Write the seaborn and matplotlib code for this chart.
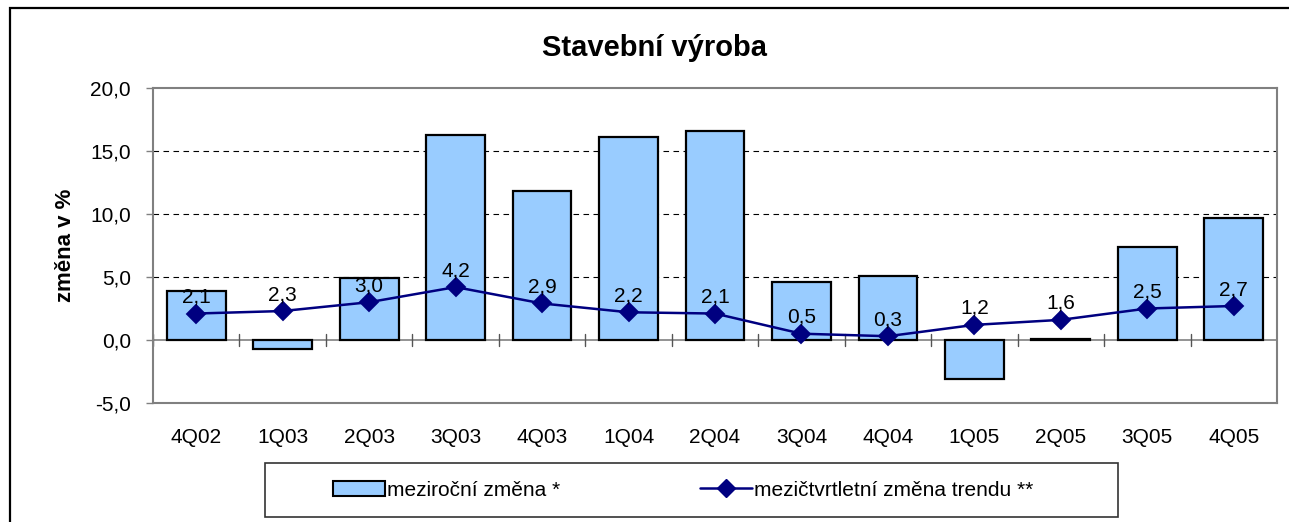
import matplotlib
matplotlib.use("Agg")
import matplotlib.pyplot as plt
import seaborn as sns
import pandas as pd
from matplotlib.patches import Rectangle
from matplotlib.lines import Line2D

categories = ["4Q02", "1Q03", "2Q03", "3Q03", "4Q03", "1Q04", "2Q04",
              "3Q04", "4Q04", "1Q05", "2Q05", "3Q05", "4Q05"]
yoy = [3.9, -0.7, 4.9, 16.3, 11.8, 16.1, 16.6, 4.6, 5.1, -3.1, 0.1, 7.4, 9.7]
trend = [2.1, 2.3, 3.0, 4.2, 2.9, 2.2, 2.1, 0.5, 0.3, 1.2, 1.6, 2.5, 2.7]
yticks = [-5, 0, 5, 10, 15, 20]
title = "Stavební výroba"
ylabel = "změna v %"
bar_label = "meziroční změna *"
line_label = "mezičtvrtletní změna trendu **"

sns.set_theme(style="white")
plt.rcParams['font.family'] = ['Liberation Sans', 'DejaVu Sans']
plt.rcParams['text.color'] = 'black'
plt.rcParams['axes.labelcolor'] = 'black'

df = pd.DataFrame({"q": categories, "yoy": yoy, "trend": trend})

W, H = 1289, 522
FS = 15
fig = plt.figure(figsize=(W / 100, H / 100), dpi=100)
ax = fig.add_axes([153 / W, 1 - 403 / H, (1277 - 153) / W, (403 - 88) / H])

sns.barplot(data=df, x="q", y="yoy", order=categories, color="#99CCFF",
            saturation=1, edgecolor="black", linewidth=1.6, width=0.68, ax=ax, zorder=3)
sns.pointplot(data=df, x="q", y="trend", order=categories, color="#000080",
              markers="D", markersize=9, linewidth=1.8, ax=ax, zorder=4)

ax.set_ylim(-5, 20)
ax.set_xlim(-0.5, len(categories) - 0.5)
ax.set_yticks(yticks)
ax.set_yticklabels([f"{v:.1f}".replace(".", ",") for v in yticks])
ax.tick_params(axis="y", left=True, length=5, width=1, color="#808080",
               labelcolor="black", pad=11, labelsize=FS)
ax.tick_params(axis="x", bottom=False, pad=12, labelsize=FS, labelcolor="black")
ax.set_xlabel("")
ax.set_ylabel(ylabel, fontsize=16, fontweight="bold", labelpad=10)

for v in [5, 10, 15]:
    ax.axhline(v, color="black", lw=0.8, ls=(0, (5, 4)), zorder=1)
ax.axhline(0, color="#808080", lw=1.2, zorder=2)
for s in ax.spines.values():
    s.set_color("#808080")
    s.set_linewidth(1.5)

# category boundary ticks on the zero line
for k in range(len(categories) + 1):
    ax.plot([k - 0.5, k - 0.5], [-0.45, 0.45], color="#555555", lw=1, zorder=2)

for i, v in enumerate(trend):
    ax.annotate(f"{v:.1f}".replace(".", ","), (i, v), xytext=(0, 5),
                textcoords="offset points", ha="center", va="bottom",
                fontsize=FS, zorder=5)

fig.text(655 / W, 1 - 48 / H, title, ha="center", va="center",
         fontsize=21, fontweight="bold")

# legend box
fig.patches.append(Rectangle((265 / W, 1 - 517 / H), (1118 - 265) / W, (517 - 463) / H,
                             transform=fig.transFigure, fill=False,
                             edgecolor="#333333", lw=1.2))
handles = [Rectangle((0, 0), 1, 1, facecolor="#99CCFF", edgecolor="black", lw=1.5),
           Line2D([], [], color="#000080", lw=1.8, marker="D", markersize=9)]
fig.legend(handles, [bar_label, line_label], loc="center left",
           bbox_to_anchor=(333 / W, 1 - 490 / H), ncol=2, frameon=False,
           fontsize=FS, handlelength=2.5, handletextpad=0.1,
           columnspacing=6.7, borderpad=0, borderaxespad=0)

# outer frame
fig.patches.append(Rectangle((10 / W, -0.05), 1.2, 1 - 8 / H + 0.05,
                             transform=fig.transFigure, fill=False,
                             edgecolor="black", lw=1.6))

fig.savefig("out.png", dpi=100)
